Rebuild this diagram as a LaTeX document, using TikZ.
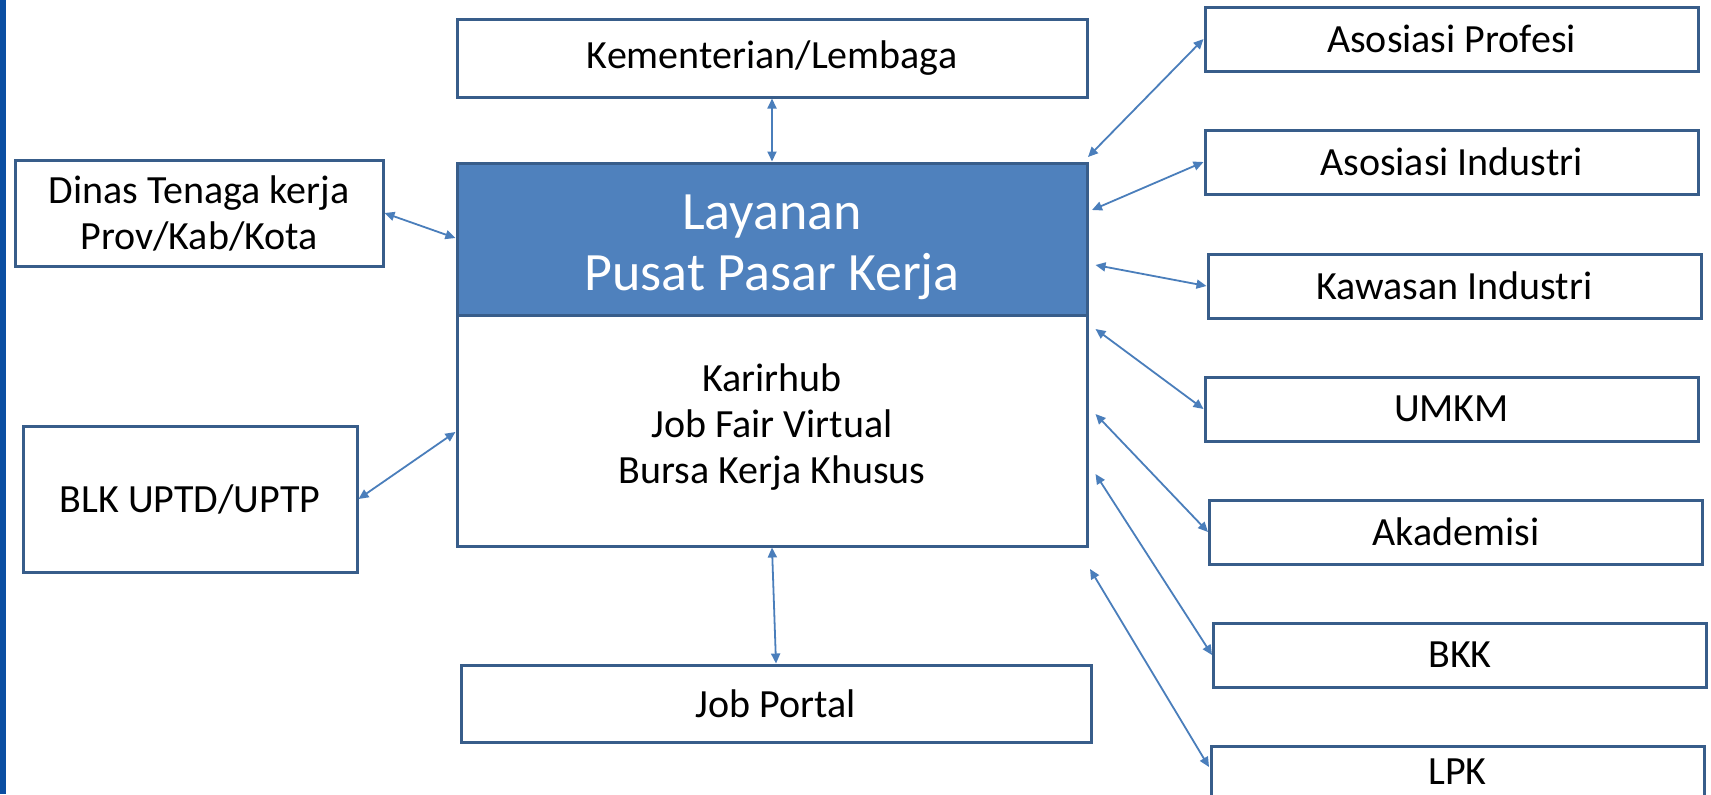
\documentclass[tikz,border=0pt]{standalone}
\usepackage{fontspec}
\setmainfont{Carlito}
\usetikzlibrary{arrows.meta}
\definecolor{boxline}{HTML}{385D8A}
\definecolor{headfill}{HTML}{4F81BD}
\definecolor{arrowc}{HTML}{4A7EBB}
\definecolor{barblue}{HTML}{0B4EA2}
\begin{document}
\begin{tikzpicture}[x=0.5pt,y=-0.5pt,
  box/.style={draw=boxline, line width=1.5pt, fill=white, inner sep=0pt, align=center,
              font=\fontsize{20}{23}\selectfont},
  rbox/.style={box, minimum width=246.5pt, minimum height=32pt},
  link/.style={draw=arrowc, line width=0.9pt,
               {Triangle[length=5pt,width=4.5pt]}-{Triangle[length=5pt,width=4.5pt]}}]
\useasboundingbox (0,0) rectangle (1711,794);
\clip (0,0) rectangle (1711,794);
\fill[white] (0,0) rectangle (1711,794);
\fill[barblue] (0,0) rectangle (6,794);

% central column
\node[box, minimum width=315pt, minimum height=39pt] (kem) at (772,58) {Kementerian/Lembaga};
\node[box, fill=headfill, minimum width=315pt, minimum height=76pt] (head) at (772,239) {};
\node[text=white, align=center, inner sep=0pt,
      font=\fontsize{27}{30.5}\selectfont] (headtxt) at (772,247) {Layanan\\Pusat Pasar Kerja};
\node[box, minimum width=315pt, minimum height=115.5pt] (low) at (772,430.5) {};
\node[align=center, inner sep=0pt, font=\fontsize{20}{23}\selectfont] (lowtxt) at (772,427) {Karirhub\\Job Fair Virtual\\Bursa Kerja Khusus};
\node[box, minimum width=315pt, minimum height=38.5pt] (jp) at (776,703.5) {Job Portal};

% left column
\node[box, minimum width=184pt, minimum height=53pt] (dinas) at (199,213) {Dinas Tenaga kerja\\Prov/Kab/Kota};
\node[box, minimum width=167pt, minimum height=73pt] (blk) at (190,499) {BLK UPTD/UPTP};

% right column
\node[rbox] (ap) at (1451.5,39) {Asosiasi Profesi};
\node[rbox] (ai) at (1451.5,162) {Asosiasi Industri};
\node[rbox] (ki) at (1454.5,286) {Kawasan Industri};
\node[rbox] (umkm) at (1451.5,409) {UMKM};
\node[rbox] (ak) at (1456,532) {Akademisi};
\node[rbox] (bkk) at (1460,655) {BKK};
\node[rbox, minimum height=26pt] (lpk) at (1457.5,772) {LPK};

% free ends near the central box
\coordinate (pap) at (1088,157);
\coordinate (pai) at (1092,210);
\coordinate (pki) at (1095.5,265);
\coordinate (pum) at (1095.5,329);
\coordinate (pak) at (1095.5,414);
\coordinate (pbk) at (1095.5,474);
\coordinate (plp) at (1090,569);
\coordinate (lpkin) at (1209,767);
\coordinate (pdi) at (455.4,238);
\coordinate (pbl) at (455.4,432);

% connectors
\draw[link] (kem.south) -- (head.north);
\draw[link] (low.south) -- (jp.north);
\draw[link] (dinas.east) -- (pdi);
\draw[link] (blk.east) -- (pbl);
\draw[link] (pap) -- (ap.west);
\draw[link] (pai) -- (ai.west);
\draw[link] (pki) -- (ki.west);
\draw[link] (pum) -- (umkm.west);
\draw[link] (pak) -- (ak.west);
\draw[link] (pbk) -- (bkk.west);
\draw[link] (plp) -- (lpkin);
\end{tikzpicture}
\end{document}
